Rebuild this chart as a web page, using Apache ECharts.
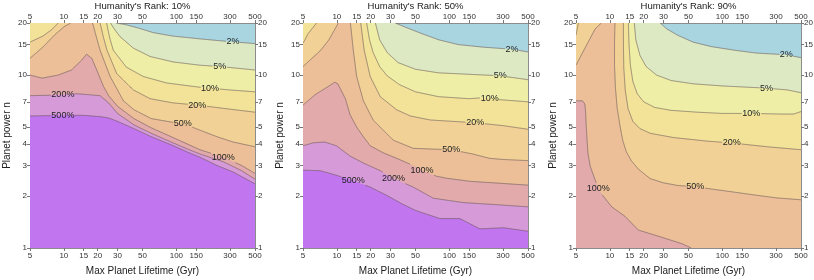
<!DOCTYPE html>
<html><head><meta charset="utf-8">
<script src="https://cdn.jsdelivr.net/npm/echarts@6/dist/echarts.min.js"></script>
<style>html,body{margin:0;padding:0;background:#fff}#c{width:814px;height:280px}</style>
</head><body><div id="c"></div>
<script>
// ---------- data ----------
const xTicks = [5, 10, 15, 20, 30, 50, 100, 150, 300, 500];
const yTicks = [1, 2, 3, 4, 5, 7, 10, 15, 20];
const levelNames = ['2%', '5%', '10%', '20%', '50%', '100%', '200%', '500%'];
const panelTitles = ["Humanity's Rank: 10%", "Humanity's Rank: 50%", "Humanity's Rank: 90%"];
const xAxisName = 'Max Planet Lifetime (Gyr)';
const yAxisName = 'Planet power n';

// Panel 1 contour lines [lifetime, n]
const p1_2 = [[29,20],[35,19.6],[46,18.7],[62,17.6],[93,16.8],[160,16.2],[300,15.6],[500,15.2]];
const p1_5 = [[26,20],[28,18.5],[31.5,16.7],[41.5,14.3],[58.5,12.8],[94,11.9],[162,11.4],[245,11.2],[500,10.7]];
const p1_10 = [[24,20],[25.5,16.5],[27.5,13.9],[36,11.1],[51,9.8],[82,9.0],[162,8.5],[300,8.2],[500,8.0]];
const p1_20 = [[5,15.5],[6.5,16.8],[7.8,18.3],[8.9,20],[21,20],[22.5,16.5],[24.2,13.9],[29.5,10.2],[41.5,8.2],[58.5,7.3],[94,6.9],[156,6.7],[300,6.35],[500,6.1]];
const p1_50 = [[5,12.5],[6.5,14.5],[8.3,17.1],[10,19],[11.5,20],[18,20],[19.5,16.5],[21,13.9],[25.8,9.8],[30,8.2],[33.8,7.1],[42,6.3],[60,5.6],[90,5.35],[115,5.25],[162,4.8],[230,4.4],[320,4.1],[500,3.85]];
const p1_100 = [[5,10],[6.4,9.6],[8.9,10],[11.7,10.7],[14.4,12.2],[15.9,13.2],[17.7,12.5],[19.6,10.7],[22.5,8.6],[25,7.6],[30,6.6],[42,5.6],[60,4.95],[90,4.4],[130,3.95],[162,3.7],[262,3.35],[380,3.0],[500,2.7]];
const p1_200 = [[5,7.6],[8,7.65],[13,7.8],[21,7.6],[25,6.9],[30,6.0],[42,5.15],[60,4.6],[90,4.1],[130,3.7],[162,3.5],[262,3.15],[380,2.8],[500,2.5]];
const p1_500 = [[5,5.8],[10,5.85],[15,5.85],[21,5.75],[25,5.65],[30,5.4],[42,4.9],[60,4.4],[90,3.95],[130,3.55],[162,3.35],[230,3.0],[320,2.75],[420,2.5],[500,2.35]];
const p1Labels = [[318,15.6,'2%'],[243,11.2,'5%'],[199,8.4,'10%'],[153,6.7,'20%'],[114,5.25,'50%'],[261,3.35,'100%'],[9.8,7.7,'200%'],[9.8,5.85,'500%']];

// Panel 2
const p2_2 = [[33,20],[40,19],[55,17.5],[80,16],[120,15],[200,14.5],[360,14.1],[500,13.6]];
const p2_5 = [[22,20],[24,16],[28,13.5],[35,11.8],[50,10.8],[80,10.3],[150,10.1],[283,9.9],[500,9.4]];
const p2_10 = [[18.4,20],[19.5,16],[21,13.5],[24,11.2],[28,9.9],[36,8.8],[50,8.0],[80,7.5],[150,7.3],[200,7.4],[250,7.25],[500,7.0]];
const p2_20 = [[5,15.3],[5.2,16],[5.5,17.2],[6.0,18.5],[6.6,20],[16.3,20],[17.5,13.9],[19.8,9.8],[24.3,7.5],[34,6.3],[45,5.8],[67.5,5.5],[170,5.3],[300,5.1],[500,4.86]];
const p2_50 = [[5,11.2],[6,12.5],[7.1,13.8],[8.5,16],[9.5,18.2],[10.3,20],[13.2,20],[14,13.9],[15,9.8],[17.2,7.1],[21,5.5],[27.6,4.6],[31.8,4.2],[47.7,3.77],[104,3.7],[160,3.5],[228,3.3],[300,3.25],[500,3.2]];
const p2_100 = [[5,6.7],[6.4,7.7],[8.4,8.6],[9.6,9.1],[10.2,8.9],[11.9,7.3],[13.1,5.9],[15,5.0],[17.2,4.4],[19.8,3.9],[25.9,3.55],[34,3.3],[47.7,3.0],[57,2.82],[77,2.6],[95,2.53],[153,2.43],[250,2.38],[500,2.31]];
const p2_200 = [[5,3.9],[6.2,4.06],[7.8,4.1],[9.9,3.9],[13.1,3.4],[17.2,3.1],[24.3,2.8],[31.8,2.53],[47.7,2.25],[72,1.94],[134,1.83],[264,1.78],[500,1.73]];
const p2_500 = [[5,2.82],[7.1,2.8],[8.7,2.7],[12.2,2.53],[19.8,2.25],[27.6,2.02],[38,1.8],[50,1.65],[82.5,1.48],[124,1.48],[187,1.29],[303,1.31],[500,1.25]];
const p2Labels = [[360,14.1,'2%'],[283,9.9,'5%'],[228,7.3,'10%'],[170,5.3,'20%'],[104,3.7,'50%'],[57,2.82,'100%'],[31.8,2.53,'200%'],[14,2.45,'500%']];

// Panel 3
const p3_2 = [[28,20],[32,18.5],[40,17],[55,15.5],[80,14.6],[130,13.9],[200,13.4],[370,13.1],[500,12.6]];
const p3_5 = [[16.5,20],[17,16],[18.5,13],[21,11.2],[26,10],[35,9.3],[55,8.9],[100,8.65],[247,8.4],[380,8.2],[500,7.9]];
const p3_10 = [[14.6,20],[14.8,15],[15.2,11.5],[16,9.2],[17.5,7.8],[20,7.0],[25,6.5],[35,6.25],[60,6.1],[100,6.0],[181,6.0],[330,5.95],[430,5.95],[500,6.15]];
const p3_20 = [[5,17],[5.25,20],[13.2,20],[13.2,15],[13.3,11],[13.7,8.2],[14.5,6.4],[16,5.4],[18.5,4.9],[23,4.6],[37,4.35],[73,4.15],[121,4.05],[250,3.85],[500,3.7]];
const p3_50 = [[5,11.4],[6,14.3],[7.4,18.5],[8.4,20],[11.1,20],[11.0,15],[11.0,11.4],[11.2,8.5],[11.6,6.5],[12.3,5.1],[13,4.2],[14,3.6],[15.5,3.2],[18,2.85],[22.8,2.52],[30,2.38],[40,2.3],[57.5,2.26],[100,2.15],[200,2.02],[300,1.95],[500,1.9]];
const p3_100 = [[5,7.1],[5.7,7.1],[6.0,6.8],[6.1,6],[6.15,5.2],[6.3,4],[6.4,3.5],[6.7,2.96],[7.4,2.47],[8.4,2.06],[10.4,1.73],[13.7,1.52],[17.9,1.27],[27,1.17],[43.5,1.06],[53,1.0]];
const p3Labels = [[370,13.1,'2%'],[247,8.4,'5%'],[181,6.0,'10%'],[121,4.05,'20%'],[57.5,2.26,'50%'],[7.9,2.2,'100%']];

// ---------- build ----------
const lg = Math.log10;
const XMIN = 5, XMAX = 500, YMIN = 1, YMAX = 20;
const bgColor = '#a9d5e0';
const fillColors = ['#dde9c3', '#eeeea6', '#f3e398', '#f2d197', '#ecbf99', '#e2aaab', '#d69ad9', '#c175ee'];
const lineColor = 'rgba(105,88,88,0.8)';
const FONT = '"Liberation Sans", Arial, sans-serif';
const LABEL_CHAR_W = 5.1;

const panels = [
  { contours: [p1_2, p1_5, p1_10, p1_20, p1_50, p1_100, p1_200, p1_500], labels: p1Labels },
  { contours: [p2_2, p2_5, p2_10, p2_20, p2_50, p2_100, p2_200, p2_500], labels: p2Labels },
  { contours: [p3_2, p3_5, p3_10, p3_20, p3_50, p3_100], labels: p3Labels }
];

const PL = [30, 303, 576], PT = 23, PW = 225, PH = 225;
const tickFmt = v => String(Math.round(Math.pow(10, v)));
const grids = [], xAxes = [], yAxes = [], series = [], titles = [];

function axisCommon() {
  return {
    axisLine: { show: true, onZero: false, lineStyle: { color: '#8c8c8c', width: 1 } },
    splitLine: { show: false },
    axisLabel: { fontSize: 8, color: '#333', fontFamily: FONT, margin: 3 },
    axisTick: { show: true, length: 3, lineStyle: { color: '#777' } }
  };
}

function inRect(pt, r) { return pt[0] > r[0] && pt[0] < r[2] && pt[1] > r[1] && pt[1] < r[3]; }

panels.forEach((p, i) => {
  grids.push({ left: PL[i], top: PT, width: PW, height: PH, show: true, backgroundColor: bgColor,
    borderWidth: 0, containLabel: false, outerBoundsMode: 'none' });
  titles.push({ text: panelTitles[i], left: PL[i] + PW / 2, top: 1, padding: 0, textAlign: 'center',
    textStyle: { fontSize: 9.5, fontWeight: 'normal', color: '#222', fontFamily: FONT } });
  const xv = xTicks.map(lg), yv = yTicks.map(lg);
  ['bottom', 'top'].forEach(pos => {
    const a = axisCommon();
    xAxes.push(Object.assign(a, {
      type: 'value', gridIndex: i, position: pos, min: lg(XMIN), max: lg(XMAX),
      name: pos === 'bottom' ? xAxisName : '', nameLocation: 'middle', nameGap: 18,
      nameTextStyle: { fontSize: 10, color: '#222', fontFamily: FONT },
      axisLabel: Object.assign(a.axisLabel, { customValues: xv, formatter: tickFmt, margin: pos === 'bottom' ? 4 : 2 }),
      axisTick: Object.assign(a.axisTick, { customValues: xv })
    }));
  });
  ['left', 'right'].forEach(pos => {
    const a = axisCommon();
    yAxes.push(Object.assign(a, {
      type: 'value', gridIndex: i, position: pos, min: lg(YMIN), max: lg(YMAX),
      name: pos === 'left' ? yAxisName : '', nameLocation: 'middle', nameGap: 18,
      nameTextStyle: { fontSize: 10, color: '#222', fontFamily: FONT },
      axisLabel: Object.assign(a.axisLabel, { customValues: yv, formatter: tickFmt }),
      axisTick: Object.assign(a.axisTick, { customValues: yv })
    }));
  });

  const cs = p.contours;
  const labs = p.labels;
  const dummy = cs.map((c, k) => [lg(XMIN), lg(YMIN), k]);
  // filled regions (value >= level)
  series.push({
    type: 'custom', coordinateSystem: 'cartesian2d', xAxisIndex: i * 2, yAxisIndex: i * 2,
    clip: true, silent: true, data: dummy,
    renderItem: (params, api) => {
      const pts = cs[params.dataIndex];
      const poly = pts.slice();
      poly.push([XMAX, YMIN], [XMIN, YMIN]);
      if (pts[0][0] > XMIN) poly.push([XMIN, YMAX]);
      return { type: 'polygon', shape: { points: poly.map(q => api.coord([lg(q[0]), lg(q[1])])) },
        style: { fill: fillColors[params.dataIndex], stroke: null } };
    }
  });
  // contour lines (broken where their own label sits)
  series.push({
    type: 'custom', coordinateSystem: 'cartesian2d', xAxisIndex: i * 2, yAxisIndex: i * 2,
    clip: true, silent: true, data: dummy,
    renderItem: (params, api) => {
      const lvl = params.dataIndex;
      const pts = cs[lvl];
      const rects = labs.filter(l => levelNames.indexOf(l[2]) === lvl).map(l => {
        const c = api.coord([lg(l[0]), lg(l[1])]);
        const w = l[2].length * LABEL_CHAR_W / 2 + 1.5;
        return [c[0] - w, c[1] - 6, c[0] + w, c[1] + 6];
      });
      const segs = []; let cur = [];
      const flush = () => { if (cur.length > 1) segs.push(cur); cur = []; };
      for (let k = 0; k < pts.length; k++) {
        const P = api.coord([lg(pts[k][0]), lg(pts[k][1])]);
        if (k === 0) { if (!rects.some(r => inRect(P, r))) cur.push(P); continue; }
        if (pts[k][1] === YMAX && pts[k - 1][1] === YMAX) { flush(); cur.push(P); continue; }
        const Q = api.coord([lg(pts[k - 1][0]), lg(pts[k - 1][1])]);
        const n = Math.max(1, Math.ceil(Math.hypot(P[0] - Q[0], P[1] - Q[1]) / 0.7));
        for (let s = 1; s <= n; s++) {
          const S = [Q[0] + (P[0] - Q[0]) * s / n, Q[1] + (P[1] - Q[1]) * s / n];
          if (rects.some(r => inRect(S, r))) flush(); else cur.push(S);
        }
      }
      flush();
      return { type: 'group', children: segs.map(s => ({ type: 'polyline', shape: { points: s },
        style: { stroke: lineColor, lineWidth: 0.8, fill: null } })) };
    }
  });
  // contour labels
  series.push({
    type: 'custom', coordinateSystem: 'cartesian2d', xAxisIndex: i * 2, yAxisIndex: i * 2,
    clip: false, silent: true, data: labs.map((l, k) => [lg(l[0]), lg(l[1]), k]),
    renderItem: (params, api) => {
      const l = labs[params.dataIndex];
      const c = api.coord([lg(l[0]), lg(l[1])]);
      return { type: 'text', x: c[0], y: c[1],
        style: { text: l[2], fill: '#222', font: '9px ' + FONT, align: 'center', verticalAlign: 'middle',
          textAlign: 'center', textVerticalAlign: 'middle' } };
    }
  });
});

const chart = echarts.init(document.getElementById('c'), null, { renderer: 'canvas' });
chart.setOption({
  animation: false,
  backgroundColor: '#fff',
  title: titles,
  grid: grids,
  xAxis: xAxes,
  yAxis: yAxes,
  series: series
});
</script></body></html>
